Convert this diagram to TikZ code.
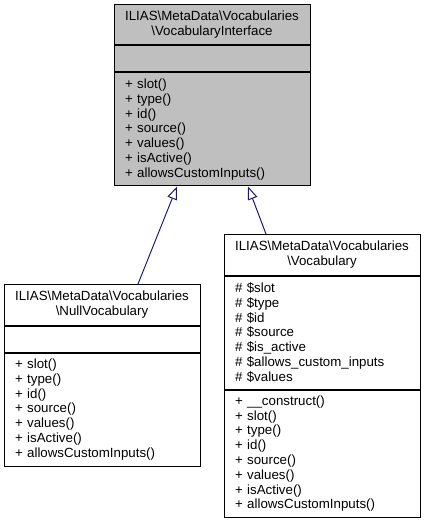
\documentclass[tikz,border=0pt]{standalone}
\usepackage{fontspec}
\setmainfont{Liberation Sans}
\usetikzlibrary{positioning, arrows.meta}
\newcommand{\nssep}{\textbackslash}
\definecolor{edgeblue}{HTML}{191970}
\definecolor{ifacegrey}{HTML}{BFBFBF}

\begin{document}
\begin{tikzpicture}[x=1pt,y=-1pt,node distance=0pt,
  compartment/.style={draw=black,line width=1pt,fill=white,minimum width=196pt,
    inner xsep=11pt,inner ysep=0pt,font=\fontsize{13.3}{14.8}\selectfont},
  classtitle/.style={compartment,align=center,minimum height=40.5pt},
  classempty/.style={compartment,minimum height=26pt},
  classmembers/.style={compartment,align=left,text width=174pt,minimum height=#1},
  inherit/.style={draw=edgeblue,line width=1pt,-{Triangle[open,length=13pt,width=10pt]}}]
  \useasboundingbox (0,0) rectangle (424,521);

  % interface
  \node[classtitle,fill=ifacegrey,anchor=north] (ifacetitle) at (212,4)
    {ILIAS\nssep MetaData\nssep Vocabularies\\\nssep VocabularyInterface};
  \node[classempty,fill=ifacegrey,below=of ifacetitle] (ifaceattr) {};
  \node[classmembers=113pt,fill=ifacegrey,below=of ifaceattr] (ifaceops)
    {+ slot()\\+ type()\\+ id()\\+ source()\\+ values()\\+ isActive()\\+ allowsCustomInputs()};

  % null vocabulary
  \node[classtitle,anchor=north] (nulltitle) at (102,284)
    {ILIAS\nssep MetaData\nssep Vocabularies\\\nssep NullVocabulary};
  \node[classempty,below=of nulltitle] (nullattr) {};
  \node[classmembers=113pt,below=of nullattr] (nullops)
    {+ slot()\\+ type()\\+ id()\\+ source()\\+ values()\\+ isActive()\\+ allowsCustomInputs()};

  % vocabulary
  \node[classtitle,anchor=north] (vocabtitle) at (322,234)
    {ILIAS\nssep MetaData\nssep Vocabularies\\\nssep Vocabulary};
  \node[classmembers=113pt,below=of vocabtitle] (vocabattr)
    {\# \$slot\\\# \$type\\\# \$id\\\# \$source\\\# \$is\_active\\\# \$allows\_custom\_inputs\\\# \$values};
  \node[classmembers=127.5pt,below=of vocabattr] (vocabops)
    {+ \_\_construct()\\+ slot()\\+ type()\\+ id()\\+ source()\\+ values()\\+ isActive()\\+ allowsCustomInputs()};

  % inheritance
  \draw[inherit] ([xshift=36pt]nulltitle.north) -- ([xshift=-35pt]ifaceops.south);
  \draw[inherit] ([xshift=-56pt]vocabtitle.north) -- ([xshift=36pt]ifaceops.south);
\end{tikzpicture}
\end{document}
